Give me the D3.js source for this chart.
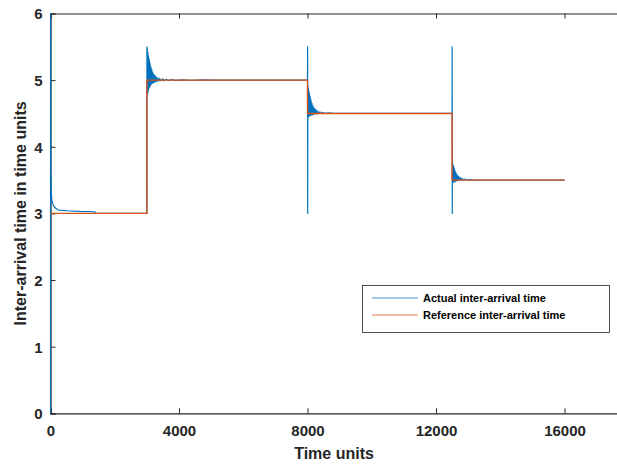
<!DOCTYPE html>
<html>
<head>
<meta charset="utf-8">
<script src="https://d3js.org/d3.v7.min.js"></script>
<style>
  body { margin: 0; background: #fff; }
  svg { display: block; font-family: "Liberation Sans", Arial, sans-serif; }
  .tick text { font-weight: bold; font-size: 15px; fill: #262626; }
  .label { font-weight: bold; font-size: 16px; fill: #262626; }
  .legend { font-weight: bold; font-size: 11px; fill: #000; }
</style>
</head>
<body>
<svg id="chart"></svg>
<script>
// ticks
var xTicks = [0, 4000, 8000, 12000, 16000];
var yTicks = [0, 1, 2, 3, 4, 5, 6];

// reference inter-arrival time (steps)
var refTime  = [0, 3000, 3000, 8000, 8000, 12500, 12500, 16000];
var refValue = [3, 3,    5,    5,    4.5,  4.5,   3.5,   3.5];

// actual inter-arrival time, [time, value]
var actualStart = [
  [0,0],[1,6],[3,4.1],[10,3.6],[20,3.35],[40,3.2],[90,3.12],[150,3.08],
  [250,3.05],[500,3.04],[900,3.03],[1380,3.025],[1400,3.0],[3000,3.0]
];
var actualStep1 = [
  [3000,3.0],[3002,5.5],[3008,4.75],[3015,5.47],[3022,4.8],[3030,5.42],[3038,4.82],
  [3046,5.37],[3054,4.86],[3062,5.33],[3070,4.88],[3080,5.3],[3090,4.9],[3100,5.25],
  [3112,4.92],[3125,5.2],[3138,4.94],[3152,5.16],[3166,4.95],[3180,5.12],[3196,4.96],
  [3212,5.09],[3230,4.97],[3250,5.07],[3270,4.975],[3290,5.05],[3315,4.98],[3340,5.035],
  [3370,4.985],[3400,5.025],[3440,4.99],[3490,5.02],[3540,4.99],[3600,5.012],[3680,4.994],
  [3780,5.008],[3900,4.996],[4100,5.005],[4400,4.998],[4800,5.003],[5200,5.0],[8000,5.0]
];
var actualStep2 = [
  [8000,5.0],[8003,5.5],[8006,3.0],[8010,4.92],[8018,4.43],[8026,4.88],[8034,4.45],
  [8043,4.84],[8052,4.46],[8062,4.8],[8072,4.47],[8084,4.75],[8096,4.47],[8110,4.7],
  [8124,4.48],[8140,4.65],[8156,4.48],[8174,4.61],[8192,4.49],[8212,4.58],[8234,4.49],
  [8258,4.56],[8284,4.49],[8312,4.54],[8345,4.495],[8385,4.525],[8430,4.5],[8480,4.515],
  [8550,4.5],[8650,4.508],[8800,4.5],[12500,4.5]
];
var actualStep3 = [
  [12500,4.5],[12503,5.5],[12506,3.0],[12510,3.76],[12518,3.46],[12527,3.74],[12536,3.47],
  [12546,3.71],[12556,3.47],[12568,3.68],[12580,3.48],[12594,3.64],[12608,3.48],
  [12624,3.61],[12640,3.49],[12658,3.58],[12678,3.49],[12700,3.56],[12725,3.495],
  [12752,3.54],[12782,3.5],[12815,3.525],[12855,3.5],[12900,3.515],[12960,3.5],
  [13050,3.507],[13200,3.5],[16000,3.5]
];
var actual = actualStart.concat(actualStep1, actualStep2, actualStep3);
var reference = refTime.map(function(t, i) { return [t, refValue[i]]; });

var W = 617, H = 464;
var plotLeft = 50.5, plotTop = 13.5, plotBottom = 413.3;

var svg = d3.select("#chart").attr("width", W).attr("height", H);

var x = d3.scaleLinear().domain([0, 18000]).range([plotLeft, plotLeft + 18000 * 128.5 / 4000]);
var y = d3.scaleLinear().domain([0, 6]).range([plotBottom, plotTop]);

svg.append("defs").append("clipPath").attr("id", "clip")
  .append("rect").attr("x", plotLeft - 1).attr("y", plotTop - 1)
  .attr("width", W - plotLeft + 1).attr("height", plotBottom - plotTop + 2);

var line = d3.line().x(function(d) { return x(d[0]); }).y(function(d) { return y(d[1]); });

var plot = svg.append("g").attr("clip-path", "url(#clip)");

// axes first so the lines sit on top
var xAxis = svg.append("g").attr("transform", "translate(0," + plotBottom + ")")
  .call(d3.axisBottom(x).tickValues(xTicks).tickSize(-5).tickPadding(9).tickFormat(d3.format("d")));
var xTop = svg.append("g").attr("transform", "translate(0," + plotTop + ")")
  .call(d3.axisTop(x).tickValues(xTicks).tickSize(-5).tickFormat(""));
var yAxis = svg.append("g").attr("transform", "translate(" + plotLeft + ",0)")
  .call(d3.axisLeft(y).tickValues(yTicks).tickSize(-5).tickPadding(8).tickFormat(d3.format("d")));

[xAxis, xTop, yAxis].forEach(function(g) {
  g.select(".domain").attr("stroke", "#262626").attr("stroke-width", 1.2);
  g.selectAll(".tick line").attr("stroke", "#262626");
});
xAxis.selectAll(".tick text").attr("dy", "0.9em");
yAxis.selectAll(".tick text").attr("dy", "0.36em");

plot.raise();
plot.append("path").datum(actual)
  .attr("d", line)
  .attr("fill", "none")
  .attr("stroke", "#0072BD")
  .attr("stroke-width", 1.2)
  .attr("stroke-linejoin", "round");

plot.append("path").datum(reference)
  .attr("d", line)
  .attr("fill", "none")
  .attr("stroke", "#D95319")
  .attr("stroke-width", 1.4);

// axis labels
svg.append("text").attr("class", "label")
  .attr("x", 334).attr("y", 459)
  .attr("text-anchor", "middle")
  .text("Time units");

svg.append("text").attr("class", "label")
  .attr("transform", "translate(26," + ((plotTop + plotBottom) / 2) + ") rotate(-90)")
  .attr("text-anchor", "middle")
  .text("Inter-arrival time in time units");

// legend
var lg = svg.append("g");
lg.append("rect")
  .attr("x", 362.5).attr("y", 285.5).attr("width", 247).attr("height", 47)
  .attr("fill", "#fff").attr("stroke", "#262626").attr("stroke-width", 0.8);
var legendItems = [
  { name: "Actual inter-arrival time", color: "#0072BD" },
  { name: "Reference inter-arrival time", color: "#D95319" }
];
legendItems.forEach(function(d, i) {
  var ly = 298 + i * 17;
  lg.append("line")
    .attr("x1", 372).attr("x2", 418).attr("y1", ly).attr("y2", ly)
    .attr("stroke", d.color).attr("stroke-width", 1).attr("stroke-opacity", 0.75);
  lg.append("text").attr("class", "legend")
    .attr("x", 423).attr("y", ly + 4)
    .text(d.name);
});
</script>
</body>
</html>
